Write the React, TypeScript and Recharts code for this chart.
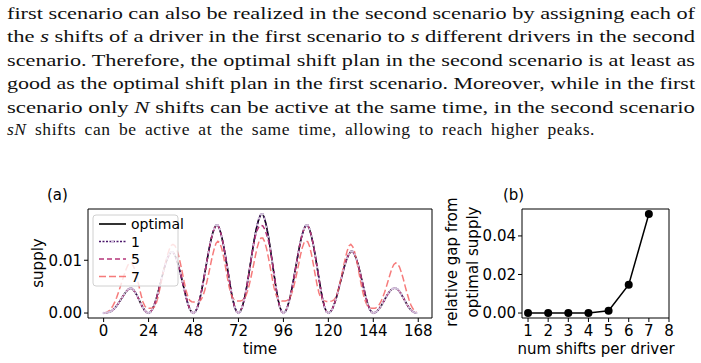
import { LineChart, Line, XAxis, YAxis, ReferenceArea } from 'recharts';

// hourly supply, in units of 1e-3
const optimalE3 = [
  0, 0.03, 0.1, 0.2, 0.35, 0.6, 0.95, 1.4, 1.9, 2.45, 3.0, 3.55, 4.05, 4.45, 4.7, 4.65, 4.35, 3.85, 3.2, 2.45, 1.7, 1.0, 0.45, 0.12,
  0, 0.17, 0.7, 1.51, 2.55, 3.83, 5.22, 6.61, 8.0, 9.28, 10.32, 11.08, 11.54, 11.54, 11.02, 10.09, 8.93, 7.54, 6.03, 4.52, 3.02, 1.74, 0.75, 0.17,
  0, 0.25, 1.0, 2.17, 3.67, 5.51, 7.52, 9.52, 11.52, 13.36, 14.86, 15.95, 16.62, 16.62, 15.87, 14.53, 12.86, 10.86, 8.68, 6.51, 4.34, 2.51, 1.09, 0.25,
  0, 0.28, 1.13, 2.44, 4.14, 6.2, 8.46, 10.72, 12.97, 15.04, 16.73, 17.95, 18.71, 18.71, 17.86, 16.36, 14.48, 12.22, 9.78, 7.33, 4.89, 2.82, 1.22, 0.28,
  0, 0.25, 1.0, 2.17, 3.67, 5.51, 7.52, 9.52, 11.52, 13.36, 14.86, 15.95, 16.62, 16.62, 15.87, 14.53, 12.86, 10.86, 8.68, 6.51, 4.34, 2.51, 1.09, 0.25,
  0, 0.18, 0.7, 1.52, 2.57, 3.86, 5.27, 6.67, 8.07, 9.36, 10.41, 11.17, 11.64, 11.64, 11.12, 10.18, 9.01, 7.61, 6.08, 4.56, 3.04, 1.76, 0.76, 0.18,
  0, 0.1, 0.35, 0.75, 1.25, 1.85, 2.5, 3.15, 3.7, 4.2, 4.55, 4.7, 4.7, 4.5, 4.1, 3.55, 2.9, 2.25, 1.6, 1.05, 0.6, 0.3, 0.1, 0.03,
];

// 1 shift per driver lies on the optimum
const shifts1E3 = optimalE3;

const shifts5E3 = [
  0, 0.03, 0.1, 0.2, 0.35, 0.6, 0.95, 1.4, 1.9, 2.45, 3.0, 3.55, 4.05, 4.45, 4.7, 4.65, 4.35, 3.85, 3.2, 2.45, 1.7, 1.0, 0.45, 0.12,
  0, 0.17, 0.7, 1.51, 2.55, 3.83, 5.22, 6.61, 8.0, 9.28, 10.32, 11.08, 11.54, 11.54, 11.02, 10.09, 8.93, 7.54, 6.03, 4.52, 3.02, 1.74, 0.75, 0.17,
  0, 0.25, 1.0, 2.17, 3.67, 5.51, 7.52, 9.52, 11.52, 13.36, 14.86, 15.95, 16.62, 16.62, 15.87, 14.53, 12.86, 10.86, 8.68, 6.51, 4.34, 2.51, 1.09, 0.25,
  0, 0.28, 1.13, 2.44, 4.14, 6.2, 8.46, 10.72, 12.8, 14.5, 15.7, 16.4, 16.6, 16.5, 15.9, 14.9, 13.7, 12.0, 9.78, 7.33, 4.89, 2.82, 1.22, 0.28,
  0, 0.25, 1.0, 2.17, 3.67, 5.51, 7.52, 9.52, 11.52, 13.36, 14.86, 15.95, 16.62, 16.62, 15.87, 14.53, 12.86, 10.86, 8.68, 6.51, 4.34, 2.51, 1.09, 0.25,
  0, 0.18, 0.7, 1.52, 2.57, 3.86, 5.27, 6.67, 8.07, 9.36, 10.41, 11.17, 11.64, 11.64, 11.12, 10.18, 9.01, 7.61, 6.08, 4.56, 3.04, 1.76, 0.76, 0.18,
  0, 0.1, 0.35, 0.75, 1.25, 1.85, 2.5, 3.15, 3.7, 4.2, 4.55, 4.7, 4.7, 4.5, 4.1, 3.55, 2.9, 2.25, 1.6, 1.05, 0.6, 0.3, 0.1, 0.03,
];

const shifts7E3 = [
  0, 0.05, 0.2, 0.45, 0.85, 1.4, 2.1, 3.0, 4.0, 5.1, 6.2, 7.3, 8.3, 9.1, 9.5, 9.4, 8.8, 7.8, 6.4, 4.9, 3.4, 2.1, 1.3, 0.95,
  0.9, 0.9, 0.95, 1.1, 1.7, 3.0, 4.6, 6.3, 8.0, 9.5, 10.9, 12.0, 12.8, 13.0, 12.8, 12.1, 10.9, 9.4, 7.7, 5.9, 4.3, 3.1, 2.4, 2.15,
  2.1, 2.1, 2.1, 2.2, 2.5, 3.2, 4.3, 5.7, 7.3, 9.0, 10.7, 12.1, 13.2, 13.6, 13.3, 12.3, 10.8, 8.9, 6.9, 5.0, 3.6, 2.8, 2.4, 2.3,
  2.3, 2.3, 2.4, 2.7, 3.3, 4.3, 5.7, 7.3, 9.0, 10.8, 12.4, 13.6, 14.2, 14.2, 13.5, 12.2, 10.5, 8.6, 6.6, 4.8, 3.5, 2.7, 2.4, 2.3,
  2.3, 2.3, 2.4, 2.7, 3.3, 4.3, 5.7, 7.3, 9.0, 10.8, 12.3, 13.3, 13.7, 13.5, 12.6, 11.1, 9.2, 7.2, 5.3, 3.8, 2.9, 2.4, 2.3, 2.2,
  2.2, 2.2, 2.3, 2.5, 3.0, 4.0, 5.4, 7.0, 8.7, 10.3, 11.7, 12.7, 13.0, 12.6, 11.6, 10.1, 8.3, 6.4, 4.6, 3.1, 2.0, 1.3, 1.0, 0.9,
  0.9, 0.9, 1.1, 1.5, 2.1, 2.9, 3.9, 5.0, 6.2, 7.4, 8.5, 9.2, 9.5, 9.3, 8.7, 7.7, 6.5, 5.1, 3.8, 2.6, 1.6, 0.9, 0.4, 0.15,
];

const timeTicks = [0, 24, 48, 72, 96, 120, 144, 168];
const supplyTicks = [0, 0.01];

const numShifts = [1, 2, 3, 4, 5, 6, 7];
const relativeGap = [0, 0, 0, 0, 0.0012, 0.0147, 0.0514];
const shiftTicks = [1, 2, 3, 4, 5, 6, 7, 8];
const gapTicks = [0, 0.02, 0.04];

const supplyData = optimalE3.map((v, t) => ({
  t,
  optimal: v * 1e-3,
  s1: shifts1E3[t] * 1e-3,
  s5: shifts5E3[t] * 1e-3,
  s7: shifts7E3[t] * 1e-3,
}));

const gapData = numShifts.map((n, i) => ({ n, gap: relativeGap[i] }));

const C_OPT = '#000000';
const C_1 = '#4b176b';
const C_5 = '#b5367a';
const C_7 = '#f46464';

const tick = { fontFamily: 'DejaVu Sans', fontSize: 15, fill: '#000' };
const label = { fontFamily: 'DejaVu Sans', fontSize: 15, fill: '#000' };

const it = (s: string) => <tspan fontStyle="italic">{s}</tspan>;

// full-width lines of the paragraph above the figure
const lines: React.ReactNode[] = [
  'first scenario can also be realized in the second scenario by assigning each of',
  <>the {it('s')} shifts of a driver in the first scenario to {it('s')} different drivers in the second</>,
  'scenario. Therefore, the optimal shift plan in the second scenario is at least as',
  'good as the optimal shift plan in the first scenario. Moreover, while in the first',
  <>scenario only {it('N')} shifts can be active at the same time, in the second scenario</>,
];
const lastLine = <><i>sN</i> shifts can be active at the same time, allowing to reach higher peaks.</>;

const yA: [number, number] = [-0.00094, 0.01971];
const xA: [number, number] = [-8.35, 175.35];
const yB: [number, number] = [-0.00257, 0.05397];
const xB: [number, number] = [0.7, 8];

export default function App() {
  return (
    <div style={{ position: 'fixed', left: 0, top: 0, width: 701, height: 363, background: '#fff', overflow: 'hidden' }}>
      <svg width={701} height={150} style={{ position: 'absolute', left: 0, top: 0 }}>
        <g fontFamily="Liberation Serif" fontSize={17.5} fill="#111">
          {lines.map((l, i) => (
            <text key={i} x={7} y={18.5 + i * 23.5} textLength={688} lengthAdjust="spacingAndGlyphs">
              {l}
            </text>
          ))}
        </g>
      </svg>
      <div style={{
        position: 'absolute', left: 7, top: 118.4, width: 588, fontFamily: 'Liberation Serif', fontSize: 17.5,
        lineHeight: '23.5px', color: '#111', letterSpacing: 0.55, textAlign: 'justify', textAlignLast: 'justify', whiteSpace: 'nowrap',
      }}>
        {lastLine}
      </div>

      <div style={{ position: 'absolute', left: 0, top: 185 }}>
        <LineChart width={440} height={178} data={supplyData} margin={{ top: 24, right: 8, left: 0, bottom: 0 }}>
          <XAxis dataKey="t" type="number" domain={xA} ticks={timeTicks} allowDataOverflow axisLine={false}
            tickLine={{ stroke: '#000' }} tickSize={4} tickMargin={3} height={45} tick={tick} interval={0} />
          <YAxis type="number" domain={yA} ticks={supplyTicks} allowDataOverflow axisLine={false}
            tickLine={{ stroke: '#000' }} tickSize={4} tickMargin={2} width={88} tick={tick}
            tickFormatter={(v: number) => v.toFixed(2)} />
          <Line dataKey="optimal" stroke={C_OPT} strokeWidth={1.6} dot={false} activeDot={false} isAnimationActive={false} />
          <Line dataKey="s1" stroke={C_1} strokeWidth={1.5} strokeDasharray="2 1.5" dot={{ r: 1.2, fill: '#d4c3de', stroke: 'none' }} activeDot={false} isAnimationActive={false} />
          <Line dataKey="s5" stroke={C_5} strokeWidth={1.5} strokeDasharray="5 3" dot={false} activeDot={false} isAnimationActive={false} />
          <Line dataKey="s7" stroke={C_7} strokeOpacity={0.85} strokeWidth={1.5} strokeDasharray="7 3" dot={false} activeDot={false} isAnimationActive={false} />
          <ReferenceArea x1={xA[0]} x2={xA[1]} y1={yA[0]} y2={yA[1]} fill="none" stroke="#000" strokeWidth={1} ifOverflow="visible" />
        </LineChart>
      </div>

      <div style={{ position: 'absolute', left: 440, top: 185 }}>
        <LineChart width={261} height={178} data={gapData} margin={{ top: 24, right: 32, left: 0, bottom: 0 }}>
          <XAxis dataKey="n" type="number" domain={xB} ticks={shiftTicks} allowDataOverflow axisLine={false}
            tickLine={{ stroke: '#000' }} tickSize={4} tickMargin={3} height={45} tick={tick} interval={0} />
          <YAxis type="number" domain={yB} ticks={gapTicks} allowDataOverflow axisLine={false}
            tickLine={{ stroke: '#000' }} tickSize={4} tickMargin={2} width={82} tick={tick}
            tickFormatter={(v: number) => v.toFixed(2)} />
          <Line dataKey="gap" type="linear" stroke="#000" strokeWidth={1.5} dot={{ r: 4, fill: '#000', stroke: 'none' }} activeDot={false} isAnimationActive={false} />
          <ReferenceArea x1={xB[0]} x2={xB[1]} y1={yB[0]} y2={yB[1]} fill="none" stroke="#000" strokeWidth={1} ifOverflow="visible" />
        </LineChart>
      </div>

      <svg width={701} height={363} style={{ position: 'absolute', left: 0, top: 0, pointerEvents: 'none' }}>
        <text x={47} y={200} {...label}>(a)</text>
        <text x={503} y={200} {...label}>(b)</text>
        <text x={260} y={354} textAnchor="middle" {...label}>time</text>
        <text x={596} y={354} textAnchor="middle" {...label}>num shifts per driver</text>
        <text transform="translate(43,263) rotate(-90)" textAnchor="middle" {...label}>supply</text>
        <text transform="translate(457,262) rotate(-90)" textAnchor="middle" {...label}>relative gap from</text>
        <text transform="translate(478,262) rotate(-90)" textAnchor="middle" {...label}>optimal supply</text>

        <rect x={93} y={215} width={85} height={71} rx={3} fill="#fff" fillOpacity={0.8} stroke="#d0d0d0" strokeWidth={1} />
        <line x1={99} x2={126} y1={224} y2={224} stroke={C_OPT} strokeWidth={1.6} />
        <line x1={99} x2={126} y1={241.5} y2={241.5} stroke={C_1} strokeWidth={1.5} strokeDasharray="2 1.5" />
        <circle cx={112.5} cy={241.5} r={1.5} fill="#d4c3de" />
        <line x1={99} x2={126} y1={259} y2={259} stroke={C_5} strokeWidth={1.5} strokeDasharray="5 3" />
        <line x1={99} x2={126} y1={276.5} y2={276.5} stroke={C_7} strokeOpacity={0.85} strokeWidth={1.5} strokeDasharray="7 3" />
        <g fontFamily="DejaVu Sans" fontSize={14} fill="#000">
          <text x={131} y={229}>optimal</text>
          <text x={131} y={246.5}>1</text>
          <text x={131} y={264}>5</text>
          <text x={131} y={281.5}>7</text>
        </g>
      </svg>
    </div>
  );
}
